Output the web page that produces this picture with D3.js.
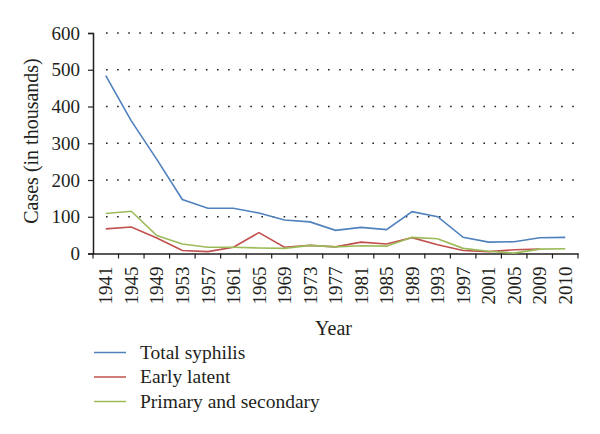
<!DOCTYPE html>
<html>
<head>
<meta charset="utf-8">
<script src="https://cdn.jsdelivr.net/npm/d3@7"></script>
<style>
  body { margin: 0; background: #fff; }
  text { font-family: "Liberation Serif", "DejaVu Serif", serif; fill: #231f20; }
</style>
</head>
<body>
<div id="chart"></div>
<script>
// years on the x axis (last step is 2009 -> 2010)
var years = ["1941","1945","1949","1953","1957","1961","1965","1969","1973","1977",
             "1981","1985","1989","1993","1997","2001","2005","2009","2010"];
// cases in thousands
var totalSyphilis = [484, 361, 256, 147, 123, 123, 110, 91, 86, 63, 71, 65, 114, 100, 44, 31, 32, 43, 44];
var earlyLatent   = [67, 72, 42, 8, 5, 17, 57, 17, 22, 18, 31, 26, 43, 24, 8, 5, 10, 12, null];
var primarySecondary = [109, 115, 49, 26, 17, 17, 15, 14, 22, 18, 21, 20, 44, 40, 14, 6, 1, 12, 13];
var yTicks = [0, 100, 200, 300, 400, 500, 600];

var series = [
  {name: "Total syphilis", values: totalSyphilis, color: "#4f81bd"},
  {name: "Early latent", values: earlyLatent, color: "#c0504d"},
  {name: "Primary and secondary", values: primarySecondary, color: "#9bbb59"}
];

var svg = d3.select("#chart").append("svg").attr("width", 600).attr("height", 434);

// plot box
var pLeft = 93, pRight = 578, pTop = 33, pBottom = 253.5;

var xScale = d3.scaleBand().domain(years).range([pLeft, pRight]);
var yScale = d3.scaleLinear().domain([0, 600]).range([pBottom, pTop]);

// dotted gridlines
svg.append("g").selectAll("line").data(yTicks.filter(function(d){ return d > 0; })).enter()
  .append("line")
  .attr("x1", pLeft + 13).attr("x2", pRight)
  .attr("y1", function(d){ return yScale(d); }).attr("y2", function(d){ return yScale(d); })
  .attr("stroke", "#231f20").attr("stroke-width", 1.6)
  .attr("stroke-dasharray", "1.6,9.5");

// y axis
var yAxis = svg.append("g").attr("transform", "translate(" + pLeft + ",0)")
  .call(d3.axisLeft(yScale).tickValues(yTicks).tickSize(5).tickPadding(8));
yAxis.select(".domain").attr("stroke", "#231f20").attr("stroke-width", 1.5);
yAxis.selectAll(".tick line").attr("stroke", "#231f20").attr("stroke-width", 1.2);
yAxis.selectAll("text").attr("font-size", 19).style("font-family", "Liberation Serif, serif").attr("fill", "#231f20");

// x axis
var xAxis = svg.append("g").attr("transform", "translate(0," + pBottom + ")")
  .call(d3.axisBottom(xScale).tickSize(0).tickSizeOuter(0));
xAxis.select(".domain").attr("stroke", "#231f20").attr("stroke-width", 1.5);
// ticks on band boundaries
xAxis.selectAll(".bound").data(d3.range(years.length + 1)).enter().append("line")
  .attr("x1", function(i){ return pLeft + i * xScale.bandwidth(); })
  .attr("x2", function(i){ return pLeft + i * xScale.bandwidth(); })
  .attr("y1", 0).attr("y2", 5)
  .attr("stroke", "#231f20").attr("stroke-width", 1.2);
xAxis.selectAll(".tick text")
  .attr("font-size", 19).style("font-family", "Liberation Serif, serif").attr("fill", "#231f20")
  .attr("text-anchor", "end")
  .attr("transform", "rotate(-90)")
  .attr("x", -13).attr("y", 0).attr("dy", "0.35em");

// axis titles
svg.append("text").attr("x", (pLeft + pRight) / 2 - 2).attr("y", 335)
  .attr("text-anchor", "middle").attr("font-size", 20).text("Year");
svg.append("text").attr("transform", "rotate(-90)")
  .attr("x", -141).attr("y", 38)
  .attr("text-anchor", "middle").attr("font-size", 20).text("Cases (in thousands)");

// lines
var line = d3.line()
  .defined(function(d){ return d != null; })
  .x(function(d, i){ return xScale(years[i]) + xScale.bandwidth() / 2; })
  .y(function(d){ return yScale(d); });

svg.append("g").selectAll("path").data(series).enter().append("path")
  .attr("d", function(s){ return line(s.values); })
  .attr("fill", "none")
  .attr("stroke", function(s){ return s.color; })
  .attr("stroke-width", 1.6);

// legend
var legend = svg.append("g").selectAll("g").data(series).enter().append("g")
  .attr("transform", function(d, i){ return "translate(94," + (352.5 + i * 24.5) + ")"; });
legend.append("line").attr("x1", 0).attr("x2", 32).attr("y1", 0).attr("y2", 0)
  .attr("stroke", function(d){ return d.color; }).attr("stroke-width", 1.5);
legend.append("text").attr("x", 46).attr("y", 6).attr("font-size", 19.5)
  .text(function(d){ return d.name; });
</script>
</body>
</html>
